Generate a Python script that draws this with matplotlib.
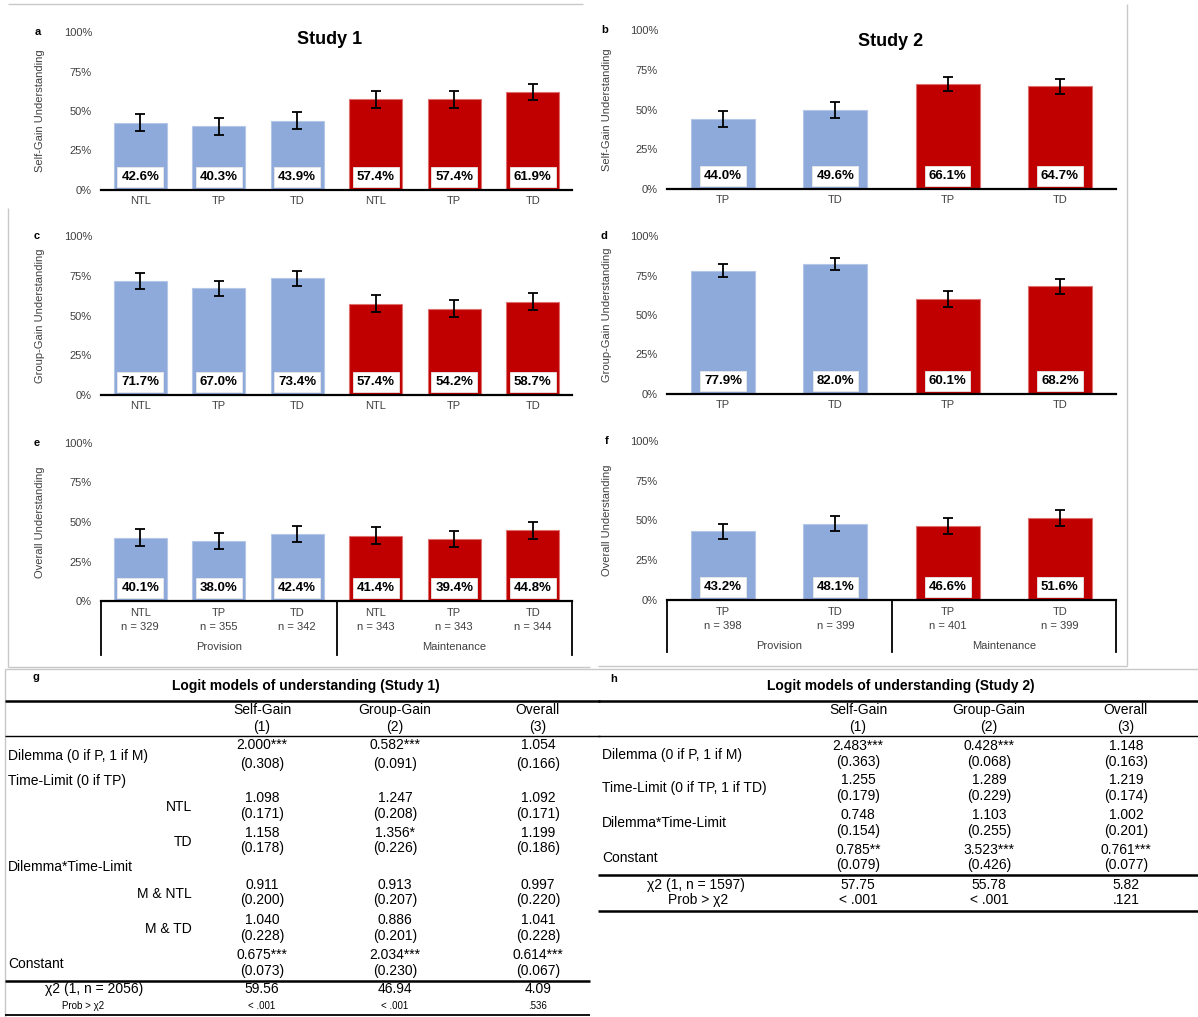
import numpy as np
import matplotlib
matplotlib.use("Agg")
import matplotlib.pyplot as plt
from matplotlib.lines import Line2D

plt.rcParams["font.family"] = ["Liberation Sans", "DejaVu Sans"]

# ---------------- data ----------------
dilemmas = ["Provision", "Maintenance"]

s1_time = ["NTL", "TP", "TD", "NTL", "TP", "TD"]
s1_n = [329, 355, 342, 343, 343, 344]
s1_self = [42.6, 40.3, 43.9, 57.4, 57.4, 61.9]
s1_group = [71.7, 67.0, 73.4, 57.4, 54.2, 58.7]
s1_overall = [40.1, 38.0, 42.4, 41.4, 39.4, 44.8]
s1_self_err = [5.4, 5.2, 5.3, 5.3, 5.3, 5.2]
s1_group_err = [4.9, 4.9, 4.7, 5.2, 5.3, 5.2]
s1_overall_err = [5.3, 5.1, 5.2, 5.2, 5.2, 5.3]

s2_time = ["TP", "TD", "TP", "TD"]
s2_n = [398, 399, 401, 399]
s2_self = [44.0, 49.6, 66.1, 64.7]
s2_group = [77.9, 82.0, 60.1, 68.2]
s2_overall = [43.2, 48.1, 46.6, 51.6]
s2_self_err = [4.9, 4.9, 4.6, 4.7]
s2_group_err = [4.1, 3.8, 4.8, 4.6]
s2_overall_err = [4.9, 4.9, 4.9, 4.9]

y_ticks = [0, 25, 50, 75, 100]
y_ticklabels = ["0%", "25%", "50%", "75%", "100%"]

model_cols = ["Self-Gain", "Group-Gain", "Overall"]
model_nums = ["(1)", "(2)", "(3)"]

# Study 1 logit models (odds ratios, standard errors)
g_dilemma = ["2.000***", "0.582***", "1.054"]
g_dilemma_se = ["(0.308)", "(0.091)", "(0.166)"]
g_ntl = ["1.098", "1.247", "1.092"]
g_ntl_se = ["(0.171)", "(0.208)", "(0.171)"]
g_td = ["1.158", "1.356*", "1.199"]
g_td_se = ["(0.178)", "(0.226)", "(0.186)"]
g_m_ntl = ["0.911", "0.913", "0.997"]
g_m_ntl_se = ["(0.200)", "(0.207)", "(0.220)"]
g_m_td = ["1.040", "0.886", "1.041"]
g_m_td_se = ["(0.228)", "(0.201)", "(0.228)"]
g_const = ["0.675***", "2.034***", "0.614***"]
g_const_se = ["(0.073)", "(0.230)", "(0.067)"]
g_chi2 = ["59.56", "46.94", "4.09"]
g_prob = ["< .001", "< .001", ".536"]

# Study 2 logit models
h_dilemma = ["2.483***", "0.428***", "1.148"]
h_dilemma_se = ["(0.363)", "(0.068)", "(0.163)"]
h_time = ["1.255", "1.289", "1.219"]
h_time_se = ["(0.179)", "(0.229)", "(0.174)"]
h_inter = ["0.748", "1.103", "1.002"]
h_inter_se = ["(0.154)", "(0.255)", "(0.201)"]
h_const = ["0.785**", "3.523***", "0.761***"]
h_const_se = ["(0.079)", "(0.426)", "(0.077)"]
h_chi2 = ["57.75", "55.78", "5.82"]
h_prob = ["< .001", "< .001", ".121"]

BLUE = "#8eaadb"
RED = "#c00000"
BLUE_EDGE = "#b4c7e7"
RED_EDGE = "#e07070"
TICK_COLOR = "#404040"

W, H = 1198, 1017
fig = plt.figure(figsize=(W / 100, H / 100), dpi=100)
fig.patch.set_facecolor("white")


def put(x, y, s, **kw):
    kw.setdefault("va", "center")
    kw.setdefault("ha", "center")
    kw.setdefault("fontsize", 10)
    kw.setdefault("color", "black")
    fig.text(x / W, 1 - y / H, s, **kw)


def line(x0, y0, x1, y1, lw=1.0, color="black"):
    fig.add_artist(Line2D([x0 / W, x1 / W], [1 - y0 / H, 1 - y1 / H],
                          transform=fig.transFigure, lw=lw, color=color,
                          solid_capstyle="butt"))


def bar_panel(x0, x1, ytop, ybot, vals, errs, cats, ylabel, letter,
              ylabel_x, letter_x, ns=None, box_bottom=None, width=0.67):
    ax = fig.add_axes([x0 / W, 1 - ybot / H, (x1 - x0) / W, (ybot - ytop) / H])
    n = len(vals)
    xs = np.arange(n)
    colors = [BLUE] * (n // 2) + [RED] * (n // 2)
    edges = [BLUE_EDGE] * (n // 2) + [RED_EDGE] * (n // 2)
    v = np.array(vals)
    ax.bar(xs, v, width, color=colors, edgecolor=edges, linewidth=0.8, zorder=2)
    ax.errorbar(xs, v, yerr=np.array(errs), fmt="none", ecolor="black",
                elinewidth=1.3, capsize=3.5, capthick=1.3, zorder=3)
    for xi, val in zip(xs, vals):
        ax.annotate(f"{val:.1f}%", xy=(xi, 0), xytext=(0, 9.5),
                    textcoords="offset points", ha="center", va="center",
                    fontsize=9.5, fontweight="bold", zorder=4,
                    bbox=dict(boxstyle="square,pad=0.3", facecolor="white",
                              edgecolor="#e8e8e8", linewidth=0.6))
    ax.set_xlim(-0.5, n - 0.5)
    ax.set_ylim(0, 100)
    ax.set_yticks(y_ticks)
    ax.set_yticklabels(y_ticklabels, fontsize=8, color=TICK_COLOR)
    ax.tick_params(axis="y", length=0, pad=6.5)
    for s in ("left", "top", "right"):
        ax.spines[s].set_visible(False)
    ax.spines["bottom"].set_linewidth(1.6)
    ax.spines["bottom"].set_color("black")
    ax.set_facecolor("none")
    hpx = ybot - ytop
    if ns is None:
        ax.set_xticks(xs)
        ax.set_xticklabels(cats, fontsize=8, color=TICK_COLOR)
        ax.tick_params(axis="x", length=0, pad=4)
    else:
        ax.set_xticks([])
        tr = ax.get_xaxis_transform()
        for xi, c, nn in zip(xs, cats, ns):
            ax.text(xi, -12 / hpx, c, transform=tr, ha="center", va="center",
                    fontsize=8, color=TICK_COLOR)
            ax.text(xi, -26 / hpx, f"n = {nn}", transform=tr, ha="center",
                    va="center", fontsize=8, color=TICK_COLOR)
        half = n // 2
        for k, name in enumerate(dilemmas):
            ax.text(k * half + (half - 1) / 2, -46 / hpx, name, transform=tr,
                    ha="center", va="center", fontsize=8, color=TICK_COLOR)
        yb = -(box_bottom - ybot) / hpx
        for xb in (-0.5, n / 2 - 0.5, n - 0.5):
            ax.plot([xb, xb], [0, yb], transform=tr, color="black", lw=1.3,
                    clip_on=False)
    put(ylabel_x, (ytop + ybot) / 2, ylabel, rotation=90, fontsize=8,
        color=TICK_COLOR)
    put(letter_x, ytop, letter, fontsize=8, fontweight="bold")
    return ax


# panel frames
GRAY = "#c8c8c8"
line(8, 4, 583, 4, lw=1.0, color=GRAY)
line(8, 208, 8, 667, lw=1.0, color=GRAY)
line(8, 667, 590, 667, lw=1.0, color=GRAY)
line(1127, 4, 1127, 666, lw=1.0, color=GRAY)
line(598, 666, 1127, 666, lw=1.0, color=GRAY)

# Study 1 (left column)
L0, L1 = 101, 572
bar_panel(L0, L1, 32, 190, s1_self, s1_self_err, s1_time,
          "Self-Gain Understanding", "a", 40, 38)
bar_panel(L0, L1, 236, 395, s1_group, s1_group_err, s1_time,
          "Group-Gain Understanding", "c", 40, 37)
bar_panel(L0, L1, 443, 601, s1_overall, s1_overall_err, s1_time,
          "Overall Understanding", "e", 40, 37, ns=s1_n, box_bottom=655)
put(330, 40, "Study 1", fontsize=13, fontweight="bold")

# Study 2 (right column)
R0, R1 = 667, 1116
bar_panel(R0, R1, 30, 189, s2_self, s2_self_err, s2_time,
          "Self-Gain Understanding", "b", 607, 605, width=0.57)
bar_panel(R0, R1, 236, 394, s2_group, s2_group_err, s2_time,
          "Group-Gain Understanding", "d", 607, 604, width=0.57)
bar_panel(R0, R1, 441, 600, s2_overall, s2_overall_err, s2_time,
          "Overall Understanding", "f", 607, 607, ns=s2_n, box_bottom=652,
          width=0.57)
put(891, 41, "Study 2", fontsize=13, fontweight="bold")

# ---------------- table g ----------------
line(5, 669, 1198, 669, lw=1.0, color=GRAY)
line(5, 669, 5, 1017, lw=1.0, color=GRAY)
put(36, 677, "g", fontsize=8, fontweight="bold")
put(306, 686, "Logit models of understanding (Study 1)", fontsize=10,
    fontweight="bold")
line(5, 701, 600, 701, lw=1.8)
gx = [262, 395, 538]
for x, c, m in zip(gx, model_cols, model_nums):
    put(x, 710, c)
    put(x, 727, m)
line(5, 736, 600, 736, lw=1.0)

put(8, 756, "Dilemma (0 if P, 1 if M)", ha="left")
for x, a, b in zip(gx, g_dilemma, g_dilemma_se):
    put(x, 745, a)
    put(x, 764, b)
put(8, 781, "Time-Limit (0 if TP)", ha="left")
put(192, 807, "NTL", ha="right")
for x, a, b in zip(gx, g_ntl, g_ntl_se):
    put(x, 798, a)
    put(x, 814, b)
put(192, 842, "TD", ha="right")
for x, a, b in zip(gx, g_td, g_td_se):
    put(x, 833, a)
    put(x, 848, b)
put(8, 867, "Dilemma*Time-Limit", ha="left")
put(192, 894, "M & NTL", ha="right")
for x, a, b in zip(gx, g_m_ntl, g_m_ntl_se):
    put(x, 885, a)
    put(x, 900, b)
put(192, 929, "M & TD", ha="right")
for x, a, b in zip(gx, g_m_td, g_m_td_se):
    put(x, 920, a)
    put(x, 936, b)
put(8, 964, "Constant", ha="left")
for x, a, b in zip(gx, g_const, g_const_se):
    put(x, 955, a)
    put(x, 971, b)
line(5, 981, 590, 981, lw=1.8)
put(94, 989, "\u03c72 (1, n = 2056)")
for x, a in zip(gx, g_chi2):
    put(x, 989, a)
put(83, 1006, "Prob > \u03c72", fontsize=7)
for x, a in zip(gx, g_prob):
    put(x, 1006, a, fontsize=7)
line(5, 1015, 590, 1015, lw=1.3)

# ---------------- table h ----------------
put(614, 679, "h", fontsize=8, fontweight="bold")
put(901, 686, "Logit models of understanding (Study 2)", fontsize=10,
    fontweight="bold")
line(598, 701, 1198, 701, lw=1.8)
hx = [858, 989, 1126]
for x, c, m in zip(hx, model_cols, model_nums):
    put(x, 710, c)
    put(x, 727, m)
line(598, 736, 1198, 736, lw=1.0)

h_rows = [
    ("Dilemma (0 if P, 1 if M)", h_dilemma, h_dilemma_se, 755, 746, 762),
    ("Time-Limit (0 if TP, 1 if TD)", h_time, h_time_se, 788, 780, 796),
    ("Dilemma*Time-Limit", h_inter, h_inter_se, 823, 815, 831),
    ("Constant", h_const, h_const_se, 858, 850, 865),
]
for label, coefs, ses, yl, yc, ys in h_rows:
    put(602, yl, label, ha="left")
    for x, a, b in zip(hx, coefs, ses):
        put(x, yc, a)
        put(x, ys, b)
line(598, 875, 1198, 875, lw=1.8)
put(696, 885, "\u03c72 (1, n = 1597)")
for x, a in zip(hx, h_chi2):
    put(x, 885, a)
put(698, 900, "Prob > \u03c72")
for x, a in zip(hx, h_prob):
    put(x, 900, a)
line(598, 911, 1198, 911, lw=1.8)

fig.savefig("out.png", dpi=100, facecolor="white")
